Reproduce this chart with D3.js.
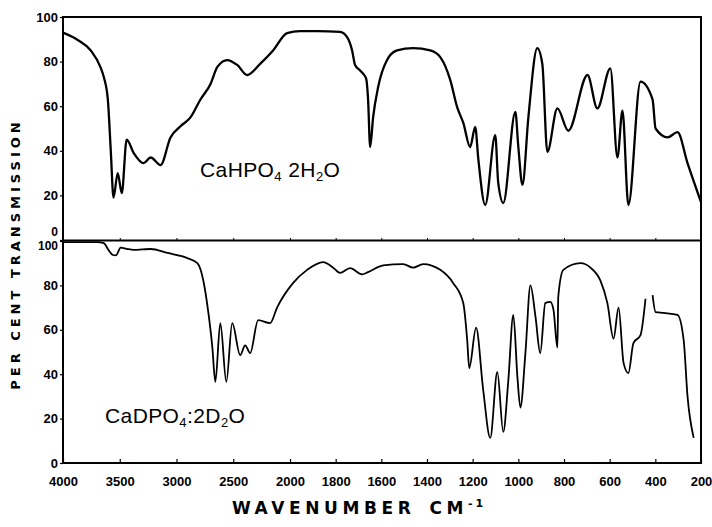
<!DOCTYPE html>
<html>
<head>
<meta charset="utf-8">
<script src="https://cdn.jsdelivr.net/npm/d3@7"></script>
<style>
body { margin: 0; background: #fff; }
text { font-family: "Liberation Sans", Arial, sans-serif; fill: #000; }
</style>
</head>
<body>
<div class="spectrum"></div>
<script>
// wavenumber ticks (the scale doubles below 2000 cm-1)
var xTicks = [4000, 3500, 3000, 2500, 2000, 1800, 1600, 1400, 1200, 1000, 800, 600, 400, 200];
var yTicks = [0, 20, 40, 60, 80, 100];

// CaHPO4.2H2O spectrum (upper panel)
var topWave = [4000, 3870, 3755, 3670, 3640, 3605, 3579, 3555, 3518, 3482, 3439, 3377, 3289, 3228, 3140,
  3053, 2965, 2877, 2789, 2700, 2640, 2553, 2465, 2377, 2263, 2149, 2026, 1956, 1882, 1781, 1750, 1728,
  1715, 1693, 1667, 1658, 1649, 1636, 1614, 1575, 1531, 1461, 1386, 1342, 1298, 1268, 1241, 1211, 1189,
  1175, 1145, 1101, 1088, 1066, 1013, 1000, 982, 956, 917, 895, 873, 829, 781, 697, 654, 597, 566, 544,
  518, 465, 412, 399, 346, 303, 259, 200];
var topTrans = [93, 89.7, 85, 77.5, 73, 63, 40, 19, 30, 21, 45, 39, 34.5, 37, 33.6,
  46, 51, 55, 63, 70, 77.6, 80.7, 78.5, 74, 79, 85, 92.8, 93.7, 93.7, 93.3, 91, 85,
  78.5, 76, 72.6, 63, 41.7, 55, 68.6, 80.7, 85, 86, 85, 82, 71.7, 59.6, 52.5, 41.7, 50.7,
  36, 15.7, 47, 25.6, 16.6, 57.4, 41.7, 24.7, 55, 86, 79, 39.5, 59, 49, 74, 59, 77, 37, 58,
  15.7, 71, 63, 50, 46, 48.4, 34.5, 17];

// CaDPO4.2D2O spectrum (lower panel), null = pen lift
var botWave = [4000, 3700, 3640, 3600, 3560, 3535, 3491, 3440, 3377, 3300, 3228, 3079, 2904, 2816, 2763,
  2719, 2684, 2658, 2614, 2561, 2509, 2439, 2395, 2351, 2281, 2175, 2114, 1987, 1925, 1855, 1811, 1781,
  1737, 1684, 1658, 1592, 1504, 1461, 1417, 1342, 1285, 1241, 1224, 1215, 1185, 1154, 1123, 1092, 1066,
  1044, 1022, 1004, 991, 969, 947, 925, 904, 882, 860, 846, 829, 825, 803, 728, 684, 640, 610, 583, 561,
  539, 518, 496, 465, 443, 430, 412, 399, 364, 303, 276, 259, 232];
var botTrans = [99.5, 99.5, 99, 96, 93.7, 93.5, 97, 96.5, 96, 96.2, 96.4, 94.6, 92.3, 90, 82,
  67.6, 52, 36.5, 63, 36.5, 63, 48.6, 53, 49.5, 64.4, 63, 70, 81, 87, 90.5, 88, 85.6,
  87.8, 85, 86, 89, 89.6, 88, 89.6, 87, 81, 72, 55.4, 42.8, 61, 33, 11.3, 41, 14,
  37, 66.7, 38.7, 25, 49.5, 80, 66, 49.5, 72, 72.6, 69, 52, 75, 87, 90, 88, 82, 72, 56, 70,
  45, 40.5, 54, 57.6, 74, null, 75.6, 68, 67.6, 66.7, 55.4, 30, 11.3];

var svgWidth = 712;
var svgHeight = 527;

var svg = d3.select(".spectrum")
  .append("svg")
  .attr("width", svgWidth)
  .attr("height", svgHeight)
  .style("display", "block");

svg.append("rect").attr("width", svgWidth).attr("height", svgHeight).attr("fill", "#fff");

var x = d3.scaleLinear()
  .domain([4000, 2000, 200])
  .range([63, 290, 701]);

var yTop = d3.scaleLinear().domain([0, 100]).range([240, 17]);
var yBot = d3.scaleLinear().domain([0, 100]).range([463, 241]);

function drawPanel(yScale, wave, trans, width, nudge) {
  var pts = d3.zip(wave, trans);
  var line = d3.line()
    .defined(d => d[1] != null)
    .x(d => x(d[0]))
    .y(d => yScale(d[1]))
    .curve(d3.curveMonotoneX);

  svg.append("path")
    .datum(pts)
    .attr("fill", "none")
    .attr("stroke", "#000")
    .attr("stroke-width", width)
    .attr("stroke-linejoin", "round")
    .attr("d", line);

  var leftAxis = d3.axisLeft(yScale)
    .tickValues(yTicks)
    .tickSize(3)
    .tickPadding(2);

  var g = svg.append("g")
    .attr("transform", `translate(${x(4000)},0)`)
    .call(leftAxis);
  g.select(".domain").remove();
  g.selectAll("line").attr("stroke-width", 1.2);
  g.selectAll("text")
    .attr("font-size", 13)
    .attr("font-weight", "bold")
    .style("font-family", "'Liberation Sans', Arial, sans-serif")
    .attr("y", d => nudge[d] || 0);
  // the two labels at the seam are set a bit smaller
  g.selectAll("text").filter(d => d in nudge).attr("font-size", 12);
}

// keep the shared 0 / 100 labels apart at the seam
drawPanel(yTop, topWave, topTrans, 2.3, {0: -8});
drawPanel(yBot, botWave, botTrans, 1.8, {100: 5});

// frames
svg.append("rect")
  .attr("x", x(4000))
  .attr("y", yTop(100))
  .attr("width", x(200) - x(4000))
  .attr("height", yBot(0) - yTop(100))
  .attr("fill", "none")
  .attr("stroke", "#000")
  .attr("stroke-width", 2);

svg.append("line")
  .attr("x1", x(4000)).attr("x2", x(200))
  .attr("y1", 240.5).attr("y2", 240.5)
  .attr("stroke", "#000")
  .attr("stroke-width", 2);

// small marks on the separator line
var sepAxis = d3.axisBottom(x).tickValues(xTicks.slice(1, -1)).tickSize(-3).tickFormat("");
var sep = svg.append("g").attr("transform", "translate(0,241)").call(sepAxis);
sep.select(".domain").remove();

// bottom axis
var bottomAxis = d3.axisBottom(x)
  .tickValues(xTicks)
  .tickSize(-4)
  .tickPadding(14)
  .tickFormat(d3.format("d"));

var xg = svg.append("g")
  .attr("transform", `translate(0,${yBot(0)})`)
  .call(bottomAxis);
xg.select(".domain").remove();
xg.selectAll("line").attr("stroke-width", 1.2);
xg.selectAll("text")
  .attr("font-size", 13)
  .attr("font-weight", "bold")
  .style("font-family", "'Liberation Sans', Arial, sans-serif");

// axis titles
svg.append("text")
  .attr("transform", "translate(20,254) rotate(-90)")
  .attr("text-anchor", "middle")
  .attr("font-size", 13)
  .attr("font-weight", "bold")
  .attr("letter-spacing", 4)
  .style("font-family", "'DejaVu Sans', sans-serif")
  .text("PER CENT  TRANSMISSION");

var xTitle = svg.append("text")
  .attr("x", 232)
  .attr("y", 514)
  .attr("font-size", 17)
  .attr("font-weight", "bold")
  .attr("letter-spacing", 4.6)
  .style("font-family", "'DejaVu Sans', sans-serif");
xTitle.append("tspan").text("WAVENUMBER");
xTitle.append("tspan").attr("dx", 14).text("CM");
xTitle.append("tspan").attr("dy", -7).attr("font-size", 11).attr("letter-spacing", 3).text("-1");

// compound labels
function compound(xPos, yPos, parts) {
  var t = svg.append("text")
    .attr("x", xPos)
    .attr("y", yPos)
    .attr("font-size", 21)
    .attr("letter-spacing", 0.4);
  var shift = 0;
  parts.forEach(function(p) {
    var sub = p[1];
    var dy = sub ? 4 - shift : -shift;
    shift = sub ? 4 : 0;
    t.append("tspan")
      .attr("dy", dy)
      .attr("font-size", sub ? 13 : 21)
      .text(p[0]);
  });
}

compound(200, 177, [["CaHPO", 0], ["4", 1], [" 2H", 0], ["2", 1], ["O", 0]]);
compound(105, 423, [["CaDPO", 0], ["4", 1], [":2D", 0], ["2", 1], ["O", 0]]);
</script>
</body>
</html>
